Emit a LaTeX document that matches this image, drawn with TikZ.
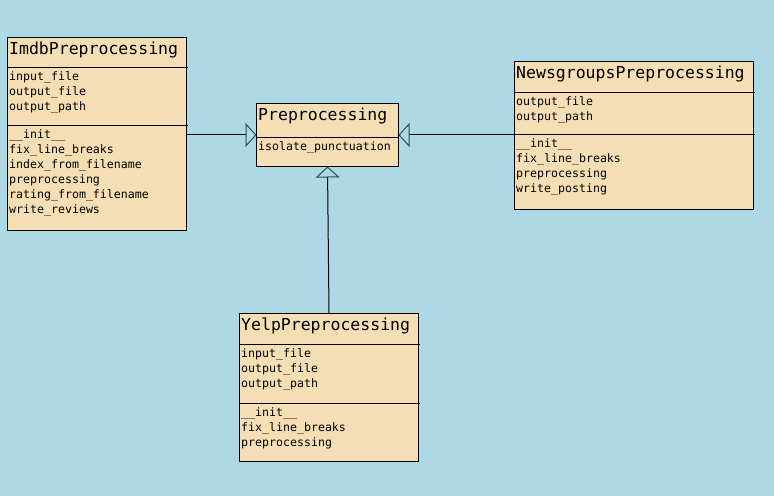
\documentclass[tikz,border=0pt]{standalone}
\usepackage{fontspec}
\newfontfamily\monofam{DejaVu Sans Mono}
\usetikzlibrary{arrows.meta}
\definecolor{bgblue}{HTML}{ADD8E6}
\definecolor{boxfill}{HTML}{F5DEB3}
\definecolor{tipline}{HTML}{2F4F4F}
\tikzset{
  classbox/.style={draw=black, fill=boxfill, line width=1bp, inner sep=0pt, outer sep=0pt, anchor=north west},
  title/.style={anchor=base west, inner sep=0pt, font=\monofam\fontsize{16.5bp}{18bp}\selectfont},
  member/.style={anchor=base west, inner sep=0pt, font=\monofam\fontsize{11.6bp}{13bp}\selectfont},
  sep/.style={draw=black, line width=1bp},
  inh/.style={draw=black, line width=1bp, -{Triangle[length=11bp, width=24bp, fill=bgblue, color=tipline, line width=1bp]}}
}
\begin{document}
\begin{tikzpicture}[x=1bp,y=-1bp]
\fill[bgblue] (0,0) rectangle (774,496);
\useasboundingbox (0,0) rectangle (774,496);

% Imdb
\node[classbox, minimum width=179bp, minimum height=193bp] (imdb) at (7.5,37.5) {};
\draw[sep] (7.5,67.5) -- (188,67.5);
\draw[sep] (7.5,125.5) -- (188,125.5);
\node[title] (imdbt) at (9,55) {ImdbPreprocessing};
\node[member] (imdba1) at (9,81) {input\_file};
\node[member] (imdba2) at (9,96) {output\_file};
\node[member] (imdba3) at (9,111) {output\_path};
\node[member] (imdbm1) at (9,139) {\_\_init\_\_};
\node[member] (imdbm2) at (9,154) {fix\_line\_breaks};
\node[member] (imdbm3) at (9,169) {index\_from\_filename};
\node[member] (imdbm4) at (9,184) {preprocessing};
\node[member] (imdbm5) at (9,199) {rating\_from\_filename};
\node[member] (imdbm6) at (9,214) {write\_reviews};

% Preprocessing
\node[classbox, minimum width=142bp, minimum height=63bp] (prep) at (256.5,103.5) {};
\draw[sep] (256.5,137.5) -- (399,137.5);
\node[title] (prept) at (258,120.5) {Preprocessing};
\node[member] (prepm1) at (258,151) {isolate\_punctuation};

% Newsgroups
\node[classbox, minimum width=239bp, minimum height=148bp] (news) at (514.5,61.5) {};
\draw[sep] (514.5,92.5) -- (755,92.5);
\draw[sep] (514.5,134.5) -- (755,134.5);
\node[title] (newst) at (516,78.5) {NewsgroupsPreprocessing};
\node[member] (newsa1) at (516,106) {output\_file};
\node[member] (newsa2) at (516,121) {output\_path};
\node[member] (newsm1) at (516,148) {\_\_init\_\_};
\node[member] (newsm2) at (516,163) {fix\_line\_breaks};
\node[member] (newsm3) at (516,178) {preprocessing};
\node[member] (newsm4) at (516,193) {write\_posting};

% Yelp
\node[classbox, minimum width=179bp, minimum height=148bp] (yelp) at (239.5,313.5) {};
\draw[sep] (239.5,344.5) -- (420,344.5);
\draw[sep] (239.5,403.5) -- (420,403.5);
\node[title] (yelpt) at (241,330) {YelpPreprocessing};
\node[member] (yelpa1) at (241,357.5) {input\_file};
\node[member] (yelpa2) at (241,372.5) {output\_file};
\node[member] (yelpa3) at (241,387.5) {output\_path};
\node[member] (yelpm1) at (241,416.5) {\_\_init\_\_};
\node[member] (yelpm2) at (241,431.5) {fix\_line\_breaks};
\node[member] (yelpm3) at (241,446.5) {preprocessing};

% Inheritance
\draw[inh] (imdb.east |- prep.west) -- (prep.west);
\draw[inh] (news.west |- prep.east) -- (prep.east);
\draw[inh] (yelp.north) -- (prep.south);
\end{tikzpicture}
\end{document}
